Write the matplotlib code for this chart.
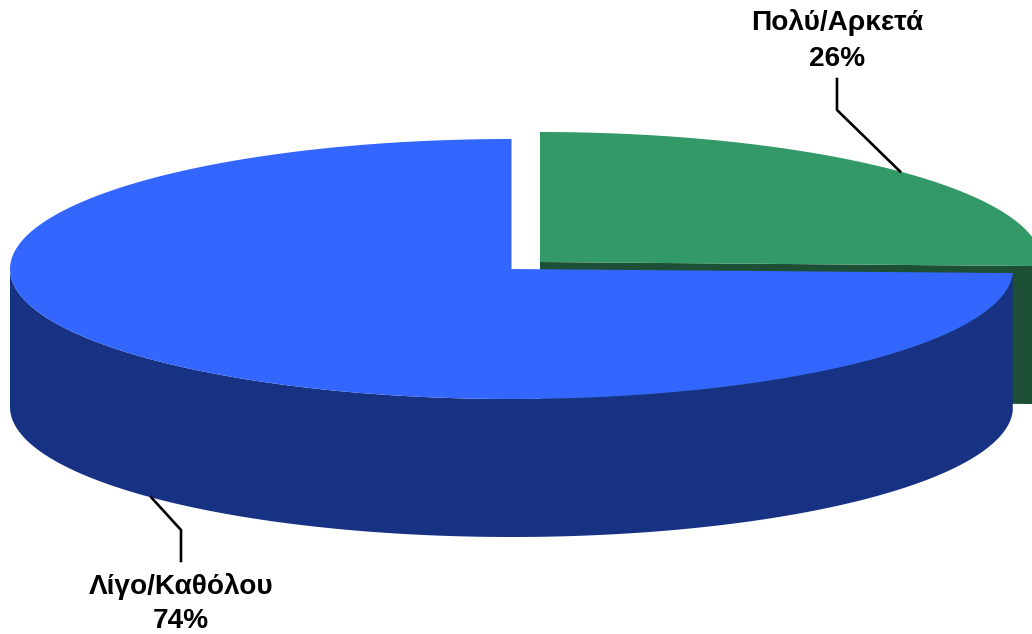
import numpy as np
import matplotlib
matplotlib.use('Agg')
import matplotlib.pyplot as plt

labels = ['Πολύ/Αρκετά', 'Λίγο/Καθόλου']
values = [25.5, 74.5]
pct_labels = ['26%', '74%']

top_colors = ['#339966', '#3366FF']
side_colors = ['#1C4F36', '#183283']

# pixel layout of the tilted pie
centers = [(540, 262), (511.5, 269)]
rx, ry = 501.5, 130
depth = 138

plt.rcParams['font.family'] = ['Liberation Sans', 'DejaVu Sans']

fig = plt.figure(figsize=(10.32, 6.34), dpi=100)
ax = fig.add_axes([0, 0, 1, 1])
ax.set_xlim(0, 1032)
ax.set_ylim(634, 0)
ax.axis('off')

total = sum(values)
start = 90.0
sweeps = [v / total * 360 for v in values]


def arc(cx, cy, a0, a1, dy=0):
    t = np.radians(np.linspace(a0, a1, 400))
    return cx + rx * np.cos(t), cy - ry * np.sin(t) + dy


# green slice, clockwise from the top
g0 = start
g1 = start - sweeps[0]
cx, cy = centers[0]
xa, ya = arc(cx, cy, g1, g0)
end_x, end_y = xa[0], ya[0]
ax.fill([cx, end_x, end_x, cx], [cy, end_y, end_y + depth, cy + depth], color=side_colors[0], lw=0)
ax.fill(np.r_[cx, xa], np.r_[cy, ya], color=top_colors[0], lw=0)

# blue slice, the rest of the way round
b0 = g1
b1 = g1 - sweeps[1]
cx, cy = centers[1]
xa, ya = arc(cx, cy, b0, b1)
xl, yl = arc(cx, cy, b0, -180, depth)
xu, yu = arc(cx, cy, b0, -180)
ax.fill(np.r_[xu, xl[::-1]], np.r_[yu, yl[::-1]], color=side_colors[1], lw=0)
ax.fill(np.r_[cx, xa], np.r_[cy, ya], color=top_colors[1], lw=0)

# leader lines start at the middle of each slice
g_mid = np.radians((g0 + g1) / 2)
gx = centers[0][0] + rx * np.cos(g_mid)
gy = centers[0][1] - ry * np.sin(g_mid)
ax.plot([gx, 837, 837], [gy, 110, 79], color='black', lw=1.9, solid_joinstyle='miter')

b_mid = np.radians((b0 + b1) / 2)
bx = centers[1][0] + rx * np.cos(b_mid)
by = centers[1][1] - ry * np.sin(b_mid) + depth
ax.plot([bx, 181, 181], [by, 530, 561], color='black', lw=1.9, solid_joinstyle='miter')

ax.text(837, 23, labels[0], ha='center', va='center', fontsize=20.2, fontweight='bold', color='black')
ax.text(837, 58.5, pct_labels[0], ha='center', va='center', fontsize=20.2, fontweight='bold', color='black')
ax.text(181, 586, labels[1], ha='center', va='center', fontsize=20.2, fontweight='bold', color='black')
ax.text(181, 620.5, pct_labels[1], ha='center', va='center', fontsize=20.2, fontweight='bold', color='black')

fig.savefig('out.png', dpi=100)
